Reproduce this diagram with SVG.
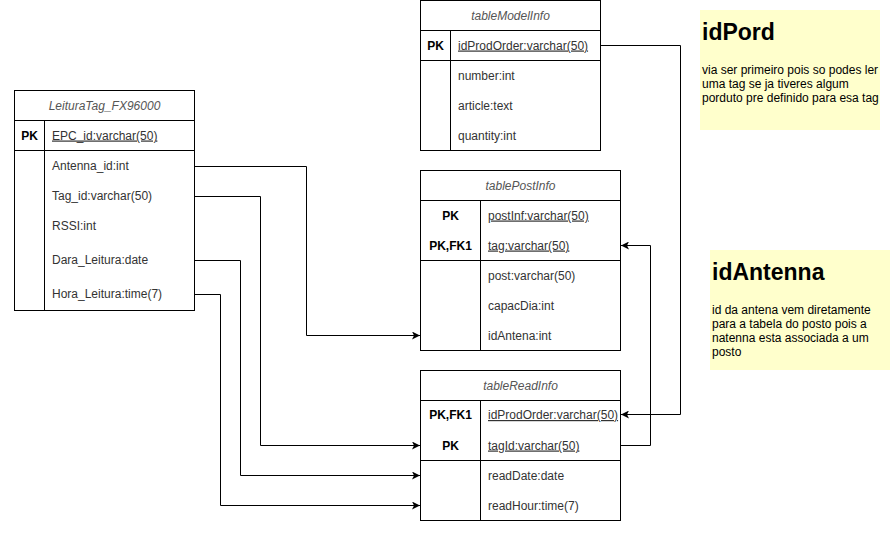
<svg xmlns="http://www.w3.org/2000/svg" width="891" height="541" viewBox="0 0 891 541">
<defs>
<style>
.box{fill:#ffffff;stroke:#000000;stroke-width:1}
.ln{fill:none;stroke:#000000;stroke-width:1}
.hdr{font-family:"Liberation Sans",Arial,sans-serif;font-size:12px;font-style:italic;fill:#555555;text-anchor:middle}
.fld{font-family:"Liberation Sans",Arial,sans-serif;font-size:12px;fill:#333333}
.key{font-family:"Liberation Sans",Arial,sans-serif;font-size:12px;font-weight:bold;fill:#000000;text-anchor:middle}
.u{text-decoration:underline}
.note{fill:#ffffcc;stroke:none}
.ntitle{font-family:"Liberation Sans",Arial,sans-serif;font-size:23px;font-weight:bold;fill:#000000}
.nbody{font-family:"Liberation Sans",Arial,sans-serif;font-size:12px;fill:#000000}
.conn{fill:none;stroke:#000000;stroke-width:1;marker-end:url(#arr)}
</style>
<marker id="arr" viewBox="0 0 8 8" refX="8" refY="4" markerWidth="8" markerHeight="8" markerUnits="userSpaceOnUse" orient="auto">
<path d="M0,0 L8,4 L0,8 L2,4 Z" fill="#000000"/>
</marker>
</defs>

<g id="connectors">
<path class="conn" d="M194.5,166.5 H306.5 V335.5 H420"/>
<path class="conn" d="M194.5,196.5 H260.5 V445.5 H420"/>
<path class="conn" d="M194.5,260.5 H240.5 V475.5 H420"/>
<path class="conn" d="M194.5,294.5 H220.5 V505.5 H420"/>
<path class="conn" d="M600.5,45.5 H680.5 V414.5 H621"/>
<path class="conn" d="M620.5,445.5 H650.5 V245.5 H621"/>
</g>

<g id="LeituraTag_FX96000">
<rect class="box" x="14.5" y="90.5" width="180" height="220"/>
<line class="ln" x1="14.5" y1="120.5" x2="194.5" y2="120.5"/>
<line class="ln" x1="14.5" y1="150.5" x2="194.5" y2="150.5"/>
<line class="ln" x1="44.5" y1="120.5" x2="44.5" y2="310.5"/>
<text class="hdr" x="104.5" y="109.5">LeituraTag_FX96000</text>
<text class="key" x="29.5" y="139.5">PK</text>
<text class="fld u" x="52" y="139.5">EPC_id:varchar(50)</text>
<text class="fld" x="52" y="170">Antenna_id:int</text>
<text class="fld" x="52" y="200">Tag_id:varchar(50)</text>
<text class="fld" x="52" y="229.5">RSSI:int</text>
<text class="fld" x="52" y="264">Dara_Leitura:date</text>
<text class="fld" x="52" y="298">Hora_Leitura:time(7)</text>
</g>

<g id="tableModelInfo">
<rect class="box" x="420.5" y="0.5" width="180" height="150"/>
<line class="ln" x1="420.5" y1="30.5" x2="600.5" y2="30.5"/>
<line class="ln" x1="420.5" y1="60.5" x2="600.5" y2="60.5"/>
<line class="ln" x1="450.5" y1="30.5" x2="450.5" y2="150.5"/>
<text class="hdr" x="510.5" y="19.5">tableModelInfo</text>
<text class="key" x="435.5" y="49.5">PK</text>
<text class="fld u" x="458" y="49.5">idProdOrder:varchar(50)</text>
<text class="fld" x="458" y="79.5">number:int</text>
<text class="fld" x="458" y="109.5">article:text</text>
<text class="fld" x="458" y="139.5">quantity:int</text>
</g>

<g id="tablePostInfo">
<rect class="box" x="420.5" y="170.5" width="200" height="180"/>
<line class="ln" x1="420.5" y1="200.5" x2="620.5" y2="200.5"/>
<line class="ln" x1="420.5" y1="260.5" x2="620.5" y2="260.5"/>
<line class="ln" x1="480.5" y1="200.5" x2="480.5" y2="350.5"/>
<text class="hdr" x="520.5" y="189.5">tablePostInfo</text>
<text class="key" x="450.5" y="219.5">PK</text>
<text class="key" x="450.5" y="249.5">PK,FK1</text>
<text class="fld u" x="488" y="219.5">postInf:varchar(50)</text>
<text class="fld u" x="488" y="249.5">tag:varchar(50)</text>
<text class="fld" x="488" y="279.5">post:varchar(50)</text>
<text class="fld" x="488" y="309.5">capacDia:int</text>
<text class="fld" x="488" y="339.5">idAntena:int</text>
</g>

<g id="tableReadInfo">
<rect class="box" x="420.5" y="370.5" width="200" height="150"/>
<line class="ln" x1="420.5" y1="400.5" x2="620.5" y2="400.5"/>
<line class="ln" x1="420.5" y1="460.5" x2="620.5" y2="460.5"/>
<line class="ln" x1="480.5" y1="400.5" x2="480.5" y2="520.5"/>
<text class="hdr" x="520.5" y="389.5">tableReadInfo</text>
<text class="key" x="450.5" y="419">PK,FK1</text>
<text class="key" x="450.5" y="449.5">PK</text>
<text class="fld u" x="488" y="419">idProdOrder:varchar(50)</text>
<text class="fld u" x="488" y="449.5">tagId:varchar(50)</text>
<text class="fld" x="488" y="479.5">readDate:date</text>
<text class="fld" x="488" y="509.5">readHour:time(7)</text>
</g>

<g id="note_idPord">
<rect class="note" x="700" y="10" width="180" height="120"/>
<text class="ntitle" x="702" y="40">idPord</text>
<text class="nbody" x="702" y="74">via ser primeiro pois so podes ler</text>
<text class="nbody" x="702" y="88">uma tag se ja tiveres algum</text>
<text class="nbody" x="702" y="102">porduto pre definido para esa tag</text>
</g>

<g id="note_idAntenna">
<rect class="note" x="710" y="250" width="180" height="120"/>
<text class="ntitle" x="712" y="280">idAntenna</text>
<text class="nbody" x="712" y="314">id da antena vem diretamente</text>
<text class="nbody" x="712" y="328">para a tabela do posto pois a</text>
<text class="nbody" x="712" y="342">natenna esta associada a um</text>
<text class="nbody" x="712" y="356">posto</text>
</g>
</svg>
